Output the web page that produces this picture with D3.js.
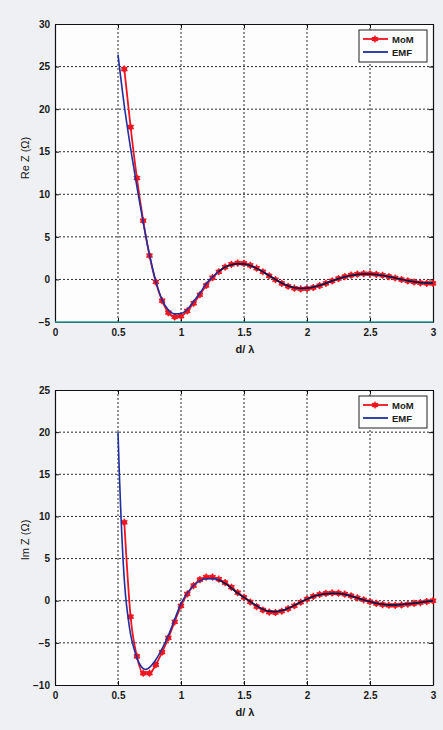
<!DOCTYPE html>
<html>
<head>
<meta charset="utf-8">
<script src="https://cdn.jsdelivr.net/npm/d3@7"></script>
<style>
  html, body { margin: 0; padding: 0; background: #eef0f3; }
  svg { display: block; }
  text { font-family: "Liberation Sans", Arial, sans-serif; fill: #1a1a1a; }
</style>
</head>
<body>
<script>
// Mutual impedance of two coupled dipoles versus spacing d/λ: MoM vs induced EMF method

// EMF curve, real part
const emfReX = [0.50, 0.55, 0.60, 0.65, 0.70, 0.75, 0.80, 0.85, 0.90, 0.95, 1.00, 1.05, 1.10, 1.15, 1.20, 1.25, 1.30, 1.35, 1.40, 1.45, 1.50, 1.55, 1.60, 1.65, 1.70, 1.75, 1.80, 1.85, 1.90, 1.95, 2.00, 2.05, 2.10, 2.15, 2.20, 2.25, 2.30, 2.35, 2.40, 2.45, 2.50, 2.55, 2.60, 2.65, 2.70, 2.75, 2.80, 2.85, 2.90, 2.95, 3.00];
const emfRe = [26.4, 20.4, 15.4, 10.9, 6.7, 2.9, -0.2, -2.4, -3.6, -4.05, -4.0, -3.5, -2.6, -1.6, -0.5, 0.3, 0.95, 1.45, 1.72, 1.85, 1.82, 1.62, 1.3, 0.9, 0.45, 0.0, -0.42, -0.75, -0.97, -1.05, -1.02, -0.9, -0.7, -0.45, -0.17, 0.08, 0.3, 0.47, 0.58, 0.63, 0.63, 0.57, 0.47, 0.33, 0.17, 0.0, -0.15, -0.27, -0.36, -0.42, -0.43];

// MoM samples, real part
const momReX = [0.55, 0.60, 0.65, 0.70, 0.75, 0.80, 0.85, 0.90, 0.95, 1.00, 1.05, 1.10, 1.15, 1.20, 1.25, 1.30, 1.35, 1.40, 1.45, 1.50, 1.55, 1.60, 1.65, 1.70, 1.75, 1.80, 1.85, 1.90, 1.95, 2.00, 2.05, 2.10, 2.15, 2.20, 2.25, 2.30, 2.35, 2.40, 2.45, 2.50, 2.55, 2.60, 2.65, 2.70, 2.75, 2.80, 2.85, 2.90, 2.95, 3.00];
const momRe = [24.7, 17.9, 11.9, 6.9, 2.8, -0.3, -2.5, -3.9, -4.4, -4.3, -3.7, -2.8, -1.8, -0.7, 0.2, 0.9, 1.45, 1.78, 1.92, 1.88, 1.66, 1.32, 0.9, 0.43, -0.03, -0.46, -0.8, -1.03, -1.12, -1.08, -0.95, -0.73, -0.46, -0.17, 0.1, 0.33, 0.5, 0.62, 0.67, 0.66, 0.6, 0.49, 0.34, 0.17, -0.01, -0.17, -0.3, -0.4, -0.46, -0.46];

// EMF curve, imaginary part
const emfImX = [0.50, 0.51, 0.52, 0.53, 0.54, 0.55, 0.56, 0.58, 0.60, 0.625, 0.65, 0.675, 0.70, 0.72, 0.75, 0.80, 0.85, 0.90, 0.95, 1.00, 1.05, 1.10, 1.15, 1.20, 1.25, 1.30, 1.35, 1.40, 1.45, 1.50, 1.55, 1.60, 1.65, 1.70, 1.75, 1.80, 1.85, 1.90, 1.95, 2.00, 2.05, 2.10, 2.15, 2.20, 2.25, 2.30, 2.35, 2.40, 2.45, 2.50, 2.55, 2.60, 2.65, 2.70, 2.75, 2.80, 2.85, 2.90, 2.95, 3.00];
const emfIm = [20.0, 15.4, 11.4, 7.9, 4.9, 2.5, 0.6, -2.0, -4.0, -5.6, -6.8, -7.6, -8.05, -8.15, -7.9, -7.0, -5.7, -4.1, -2.2, -0.35, 0.9, 1.8, 2.35, 2.6, 2.62, 2.45, 2.05, 1.5, 0.9, 0.4, -0.1, -0.6, -1.0, -1.25, -1.3, -1.15, -0.9, -0.55, -0.15, 0.2, 0.5, 0.7, 0.82, 0.87, 0.85, 0.75, 0.55, 0.33, 0.1, -0.1, -0.3, -0.42, -0.5, -0.5, -0.45, -0.38, -0.3, -0.2, -0.1, 0.0];

// MoM samples, imaginary part
const momImX = [0.55, 0.60, 0.65, 0.70, 0.75, 0.80, 0.85, 0.90, 0.95, 1.00, 1.05, 1.10, 1.15, 1.20, 1.25, 1.30, 1.35, 1.40, 1.45, 1.50, 1.55, 1.60, 1.65, 1.70, 1.75, 1.80, 1.85, 1.90, 1.95, 2.00, 2.05, 2.10, 2.15, 2.20, 2.25, 2.30, 2.35, 2.40, 2.45, 2.50, 2.55, 2.60, 2.65, 2.70, 2.75, 2.80, 2.85, 2.90, 2.95, 3.00];
const momIm = [9.3, -1.9, -6.6, -8.6, -8.6, -7.6, -6.1, -4.4, -2.5, -0.6, 0.8, 1.8, 2.5, 2.8, 2.8, 2.55, 2.15, 1.6, 0.95, 0.4, -0.15, -0.7, -1.1, -1.35, -1.4, -1.25, -0.95, -0.6, -0.18, 0.2, 0.52, 0.74, 0.87, 0.92, 0.9, 0.78, 0.58, 0.34, 0.1, -0.12, -0.32, -0.46, -0.54, -0.55, -0.5, -0.42, -0.32, -0.22, -0.1, 0.0];

// Axis ticks
const xTicks = [0, 0.5, 1, 1.5, 2, 2.5, 3];
const xTickLabels = ["0", "0.5", "1", "1.5", "2", "2.5", "3"];
const reTicks = [-5, 0, 5, 10, 15, 20, 25, 30];
const imTicks = [-10, -5, 0, 5, 10, 15, 20, 25];

const seriesNames = ["MoM", "EMF"];
const axisTitleX = "d/ λ";

const W = 443, H = 730;
const svg = d3.select("body").append("svg").attr("width", W).attr("height", H);

const RED = "#f0141e", BLUE = "#1f2fa0";

function panel(cfg) {
  const x = d3.scaleLinear().domain([0, 3]).range([55, 433]);
  const y = d3.scaleLinear().domain(cfg.yDomain).range([cfg.bottom, cfg.top]);
  const g = svg.append("g");

  g.append("rect")
    .attr("x", x(0)).attr("y", y(cfg.yDomain[1]))
    .attr("width", x(3) - x(0)).attr("height", y(cfg.yDomain[0]) - y(cfg.yDomain[1]))
    .attr("fill", "#fdfdfe");

  // dotted grid
  g.append("g").selectAll("line").data(xTicks.slice(1, -1)).join("line")
    .attr("x1", d => x(d)).attr("x2", d => x(d))
    .attr("y1", cfg.top).attr("y2", cfg.bottom)
    .attr("stroke", "#2a2a2a").attr("stroke-width", 1).attr("stroke-dasharray", "2,2");
  g.append("g").selectAll("line").data(cfg.yTicks.slice(1, -1)).join("line")
    .attr("y1", d => y(d)).attr("y2", d => y(d))
    .attr("x1", x(0)).attr("x2", x(3))
    .attr("stroke", "#2a2a2a").attr("stroke-width", 1).attr("stroke-dasharray", "2,2");

  // axes with inward ticks
  const axB = d3.axisBottom(x).tickValues(xTicks).tickFormat((d, i) => xTickLabels[i]).tickSizeInner(-4).tickSizeOuter(0).tickPadding(7);
  const axT = d3.axisTop(x).tickValues(xTicks).tickFormat("").tickSizeInner(-4).tickSizeOuter(0);
  const axL = d3.axisLeft(y).tickValues(cfg.yTicks).tickFormat(d3.format("d")).tickSizeInner(-4).tickSizeOuter(0).tickPadding(5);
  const axR = d3.axisRight(y).tickValues(cfg.yTicks).tickFormat("").tickSizeInner(-4).tickSizeOuter(0);

  const style = sel => {
    sel.selectAll("path").attr("stroke", "#111").attr("stroke-width", 1.2);
    sel.selectAll("line").attr("stroke", "#111");
    sel.selectAll("text").attr("font-size", 10).attr("font-weight", "bold")
      .attr("font-family", "'Liberation Sans', Arial, sans-serif").attr("fill", "#1a1a1a");
  };
  g.append("g").attr("transform", `translate(0,${cfg.bottom})`).call(axB).call(style);
  g.append("g").attr("transform", `translate(0,${cfg.top})`).call(axT).call(style);
  g.append("g").attr("transform", `translate(${x(0)},0)`).call(axL).call(style);
  g.append("g").attr("transform", `translate(${x(3)},0)`).call(axR).call(style);

  if (cfg.baseColor) {
    g.append("line").attr("x1", x(0)).attr("x2", x(3))
      .attr("y1", y(cfg.yDomain[0])).attr("y2", y(cfg.yDomain[0]))
      .attr("stroke", cfg.baseColor).attr("stroke-width", 1.6);
  }

  const line = d3.line().x(d => x(d[0])).y(d => y(d[1])).curve(d3.curveMonotoneX);
  const mom = cfg.momX.map((v, i) => [v, cfg.mom[i]]);
  const emf = cfg.emfX.map((v, i) => [v, cfg.emf[i]]);

  g.append("path").datum(mom).attr("d", line)
    .attr("fill", "none").attr("stroke", RED).attr("stroke-width", 1.8);

  const star = d3.symbol().type(d3.symbolAsterisk).size(36);
  const mk = g.append("g").selectAll("g").data(mom).join("g")
    .attr("transform", d => `translate(${x(d[0])},${y(d[1])})`);
  mk.append("circle").attr("r", 2.8).attr("fill", RED).attr("opacity", 0.9);
  mk.append("path").attr("d", star).attr("fill", "none").attr("stroke", RED).attr("stroke-width", 1.3);

  g.append("path").datum(emf).attr("d", line)
    .attr("fill", "none").attr("stroke", BLUE).attr("stroke-width", 1.6);

  // the overlapping stretch reads almost black where both traces coincide
  g.append("path").datum(emf.filter(d => d[0] >= 1.3)).attr("d", line)
    .attr("fill", "none").attr("stroke", "#141433").attr("stroke-width", 1.4);

  // legend
  const lg = g.append("g").attr("transform", `translate(359,${cfg.top + 6})`);
  lg.append("rect").attr("width", 68).attr("height", 32)
    .attr("fill", "#fdfdfd").attr("stroke", "#222").attr("stroke-width", 1);
  lg.append("line").attr("x1", 4).attr("x2", 29).attr("y1", 9).attr("y2", 9)
    .attr("stroke", RED).attr("stroke-width", 1.8);
  lg.append("circle").attr("cx", 16).attr("cy", 9).attr("r", 2.6).attr("fill", RED);
  lg.append("path").attr("transform", "translate(16,9)").attr("d", star)
    .attr("fill", "none").attr("stroke", RED).attr("stroke-width", 1.2);
  lg.append("line").attr("x1", 4).attr("x2", 29).attr("y1", 22).attr("y2", 22)
    .attr("stroke", BLUE).attr("stroke-width", 1.8);
  lg.selectAll("text.lab").data(seriesNames).join("text").attr("class", "lab")
    .attr("x", 33).attr("y", (d, i) => 12.5 + i * 13)
    .attr("font-size", 9.5).attr("font-weight", "bold").text(d => d);

  // axis titles
  g.append("text").attr("x", 245).attr("y", cfg.bottom + 31)
    .attr("text-anchor", "middle").attr("font-size", 11).attr("font-weight", "bold").text(axisTitleX);
  g.append("text")
    .attr("transform", `translate(29,${cfg.labelY}) rotate(-90)`)
    .attr("text-anchor", "middle").attr("font-size", 11).text(cfg.yTitle);
}

panel({
  top: 24, bottom: 322, yDomain: [-5, 30], yTicks: reTicks,
  emfX: emfReX, emf: emfRe, momX: momReX, mom: momRe,
  yTitle: "Re Z (Ω)", labelY: 158, baseColor: "#2a9c9a"
});

panel({
  top: 390, bottom: 685, yDomain: [-10, 25], yTicks: imTicks,
  emfX: emfImX, emf: emfIm, momX: momImX, mom: momIm,
  yTitle: "Im Z (Ω)", labelY: 540
});
</script>
</body>
</html>
